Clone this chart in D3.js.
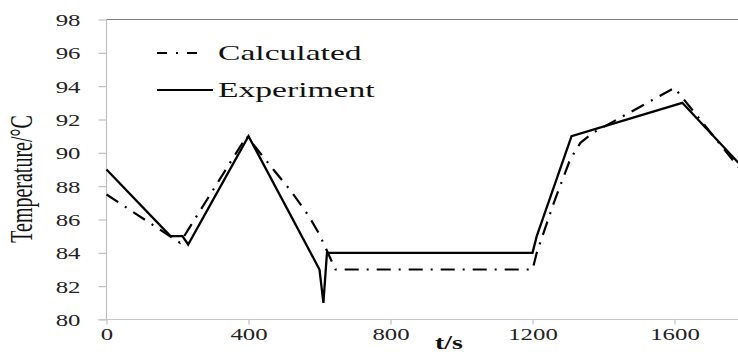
<!DOCTYPE html>
<html>
<head>
<meta charset="utf-8">
<script src="https://cdn.jsdelivr.net/npm/d3@7"></script>
<style>
  body { margin: 0; background: #fff; }
  svg { display: block; }
</style>
</head>
<body>
<svg id="chart"></svg>
<script>
// chart size (the original figure is cropped on the right and stretched horizontally)
const width = 738, height = 352;
const sx = 1.55; // horizontal stretch of all text

// data
const timeExp = [0, 180, 214, 230, 400, 600, 611, 621, 1200, 1212, 1310, 1622, 1780];
const tempExp = [89, 85, 85, 84.5, 91, 83, 81, 84, 84, 85, 91, 93, 89.4];
const timeCalc = [0, 207, 395, 470, 520, 570, 600, 615, 645, 1200, 1212, 1260, 1306, 1335, 1370, 1600, 1780];
const tempCalc = [87.5, 84.6, 91, 89, 87.7, 86.2, 85.1, 84.4, 83, 83, 84, 87, 89.6, 90.6, 91.2, 93.9, 89.15];
const xTicks = [0, 400, 800, 1200, 1600];
const yTicks = [80, 82, 84, 86, 88, 90, 92, 94, 96, 98];
const seriesNames = ["Calculated", "Experiment"];

const dashPattern = "14,8,2,8";

const svg = d3.select("#chart")
    .attr("width", width)
    .attr("height", height);

// scales: plot runs a bit past the right edge (cropped)
const x = d3.scaleLinear().domain([0, 1800]).range([106.5, 745.5]);
const y = d3.scaleLinear().domain([80, 98]).range([319.5, 19.5]);

// top border line
svg.append("line")
    .attr("x1", x(0)).attr("x2", width)
    .attr("y1", y(98)).attr("y2", y(98))
    .attr("stroke", "#808080").attr("stroke-width", 1.2);

// y axis
const yAxis = svg.append("g")
    .attr("transform", `translate(${x(0)},0)`)
    .call(d3.axisLeft(y).tickValues(yTicks).tickSize(8).tickFormat(d3.format("d")));
yAxis.select(".domain").attr("stroke", "#c0c0c0").attr("stroke-width", 1.2)
    .attr("d", `M0,${y(98)}V${y(80)}`);
yAxis.selectAll(".tick line").attr("stroke", "#c0c0c0").attr("stroke-width", 1.2);
yAxis.selectAll(".tick text").remove();
yAxis.selectAll(".tick").append("text")
    .attr("transform", `translate(-26,6) scale(${sx},1)`)
    .attr("text-anchor", "end")
    .attr("fill", "#222")
    .style("font-family", "'Liberation Serif', 'Times New Roman', serif")
    .style("font-size", "16px")
    .text(d => d);

// x axis
const xAxis = svg.append("g")
    .attr("transform", `translate(0,${y(80)})`)
    .call(d3.axisBottom(x).tickValues(xTicks).tickSize(5).tickFormat(d3.format("d")));
xAxis.select(".domain").attr("stroke", "#c8c8c8").attr("stroke-width", 1.2)
    .attr("d", `M${x(0) - 8},0H${width}`);
xAxis.selectAll(".tick line").attr("stroke", "#c0c0c0").attr("stroke-width", 1.2);
xAxis.selectAll(".tick text").remove();
xAxis.selectAll(".tick").append("text")
    .attr("transform", `translate(0,20) scale(${sx},1)`)
    .attr("text-anchor", "middle")
    .attr("fill", "#222")
    .style("font-family", "'Liberation Serif', 'Times New Roman', serif")
    .style("font-size", "16px")
    .text(d => d);

// axis titles
svg.append("text")
    .attr("transform", `translate(449,349) scale(${sx},1)`)
    .attr("text-anchor", "middle")
    .style("font-family", "'Liberation Serif', 'Times New Roman', serif")
    .style("font-size", "18px")
    .style("font-weight", "bold")
    .attr("fill", "#111")
    .text("t/s");

svg.append("text")
    .attr("transform", `translate(32,179) scale(${sx},1) rotate(-90)`)
    .attr("text-anchor", "middle")
    .style("font-family", "'Liberation Serif', 'Times New Roman', serif")
    .style("font-size", "20px")
    .attr("fill", "#111")
    .text("Temperature/\u00b0C");

// lines
const line = d3.line()
    .x(d => x(d[0]))
    .y(d => y(d[1]));

const calcPts = timeCalc.map((t, i) => [t, tempCalc[i]]);
const expPts = timeExp.map((t, i) => [t, tempExp[i]]);

svg.append("path")
    .datum(calcPts)
    .attr("d", line)
    .attr("fill", "none")
    .attr("stroke", "#000")
    .attr("stroke-width", 2.2)
    .attr("stroke-dasharray", dashPattern);

svg.append("path")
    .datum(expPts)
    .attr("d", line)
    .attr("fill", "none")
    .attr("stroke", "#000")
    .attr("stroke-width", 2.3)
    .attr("stroke-linejoin", "miter");

// legend
const legend = svg.append("g");
const legendRows = legend.selectAll("g")
    .data(seriesNames)
    .enter().append("g")
    .attr("transform", (d, i) => `translate(157,${53 + i * 37})`);

legendRows.append("line")
    .attr("x1", 0)
    .attr("x2", (d, i) => i === 0 ? 44 : 56)
    .attr("y1", 0).attr("y2", 0)
    .attr("stroke", "#000")
    .attr("stroke-width", 2.2)
    .attr("stroke-dasharray", (d, i) => i === 0 ? "10,9,2,9" : null);

legendRows.append("text")
    .attr("transform", `translate(61,7) scale(1.6,1)`)
    .style("font-family", "'Liberation Serif', 'Times New Roman', serif")
    .style("font-size", "21px")
    .attr("fill", "#111")
    .text(d => d);
</script>
</body>
</html>
